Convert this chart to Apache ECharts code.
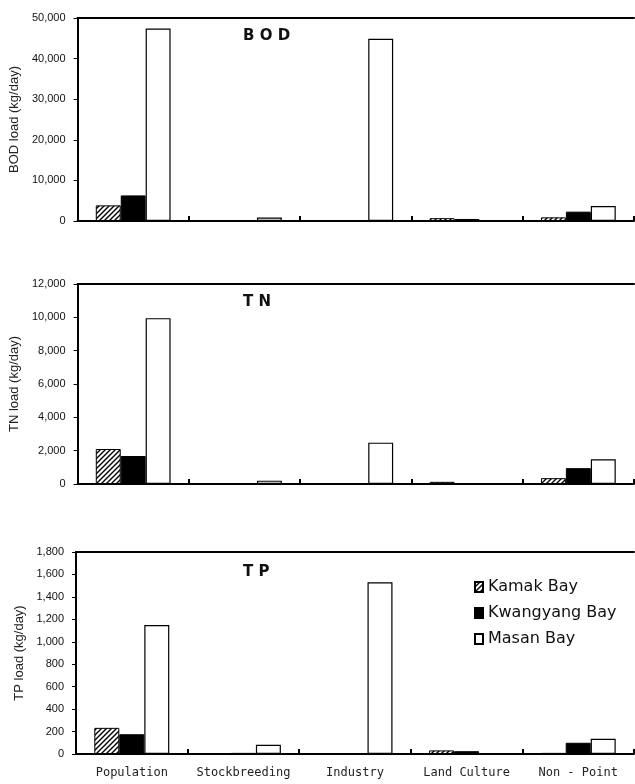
<!DOCTYPE html>
<html><head><meta charset="utf-8">
<script src="https://cdn.jsdelivr.net/npm/echarts@6/dist/echarts.min.js"></script>
<style>html,body{margin:0;padding:0;background:#fff}#c{width:635px;height:784px}</style>
</head><body><div id="c"></div>
<script>
// ---- data ----
const categories = ['Population', 'Stockbreeding', 'Industry', 'Land Culture', 'Non - Point'];
const seriesNames = ['Kamak Bay', 'Kwangyang Bay', 'Masan Bay'];

const bodKamak     = [3850, 100, 50, 700, 900];
const bodKwangyang = [6300, 150, 80, 500, 2300];
const bodMasan     = [47400, 850, 44900, 0, 3700];

const tnKamak     = [2100, 30, 20, 130, 350];
const tnKwangyang = [1680, 40, 30, 60, 950];
const tnMasan     = [9950, 200, 2480, 20, 1480];

const tpKamak     = [233, 3, 2, 32, 10];
const tpKwangyang = [176, 10, 4, 25, 100];
const tpMasan     = [1150, 82, 1530, 3, 136];

const panelTitles = ['B O D', 'T N', 'T P'];
const axisNames = ['BOD load (kg/day)', 'TN load (kg/day)', 'TP load (kg/day)'];
const axisMax = [50000, 12000, 1800];
const axisInterval = [10000, 2000, 200];

// ---- layout ----
const panelData = [
  [bodKamak, bodKwangyang, bodMasan],
  [tnKamak, tnKwangyang, tnMasan],
  [tpKamak, tpKwangyang, tpMasan]
];
const layout = [
  { top: 18, height: 203, nameGap: 52, titleTop: 29 },
  { top: 284, height: 200, nameGap: 52, titleTop: 295 },
  { top: 552, height: 202, nameGap: 44, titleTop: 565 }
];
const titleLeft = [243, 243, 243];

function hatch() {
  const s = 5, c = document.createElement('canvas');
  c.width = s; c.height = s;
  const g = c.getContext('2d');
  g.fillStyle = '#fff'; g.fillRect(0, 0, s, s);
  g.strokeStyle = '#000'; g.lineWidth = 1.4;
  g.beginPath();
  g.moveTo(0, s); g.lineTo(s, 0);
  g.moveTo(-1, 1); g.lineTo(1, -1);
  g.moveTo(s - 1, s + 1); g.lineTo(s + 1, s - 1);
  g.stroke();
  return c;
}
const hatchPattern = { image: hatch(), repeat: 'repeat' };

const seriesStyles = [
  { color: hatchPattern, borderColor: '#000', borderWidth: 1 },
  { color: '#000', borderColor: '#000', borderWidth: 1 },
  { color: '#fff', borderColor: '#000', borderWidth: 1.2 }
];

const grids = [], xAxes = [], yAxes = [], series = [], titles = [];
layout.forEach((L, i) => {
  grids.push({ left: 76, right: 1, top: L.top, height: L.height, containLabel: false });
  xAxes.push({
    type: 'category', gridIndex: i, data: categories, position: 'bottom',
    axisLine: { show: true, lineStyle: { color: '#000', width: 2 } },
    axisTick: { show: true, inside: true, interval: 0, length: 5, lineStyle: { color: '#000', width: 2 } },
    axisLabel: { show: i === 2, interval: 0, margin: 13, fontFamily: 'DejaVu Sans Mono', fontSize: 12, color: '#222' },
    splitLine: { show: false }
  });
  xAxes.push({
    type: 'category', gridIndex: i, data: categories, position: 'top',
    axisLine: { show: true, lineStyle: { color: '#000', width: 2 } },
    axisTick: { show: false }, axisLabel: { show: false }, splitLine: { show: false }
  });
  yAxes.push({
    type: 'value', gridIndex: i, min: 0, max: axisMax[i], interval: axisInterval[i],
    name: axisNames[i], nameLocation: 'middle', nameGap: L.nameGap, nameRotate: 90,
    nameTextStyle: { fontFamily: 'Liberation Sans', fontSize: 13, color: '#222' },
    axisLine: { show: true, lineStyle: { color: '#000', width: 2 } },
    axisTick: { show: true, length: 4, lineStyle: { color: '#000', width: 1 } },
    axisLabel: {
      margin: 12, fontFamily: 'Liberation Sans', fontSize: 11, color: '#111',
      formatter: v => v.toLocaleString('en-US')
    },
    splitLine: { show: false }
  });
  titles.push({
    text: panelTitles[i], left: titleLeft[i], top: L.titleTop, padding: 0,
    textStyle: { fontFamily: 'DejaVu Sans', fontWeight: 'bold', fontSize: 15, color: '#111' }
  });
  panelData[i].forEach((d, j) => {
    series.push({
      type: 'bar', name: seriesNames[j], xAxisIndex: 2 * i, yAxisIndex: i,
      data: d, barWidth: '22.4%', barGap: '0%',
      itemStyle: seriesStyles[j], silent: true
    });
  });
});

const chart = echarts.init(document.getElementById('c'), null, { renderer: 'canvas' });
chart.setOption({
  animation: false,
  backgroundColor: '#fff',
  title: titles,
  legend: {
    data: seriesNames, orient: 'vertical', left: 469, top: 574,
    icon: 'rect', itemWidth: 8, itemHeight: 10, itemGap: 10,
    textStyle: { fontFamily: 'DejaVu Sans', fontSize: 16, color: '#111' },
    selectedMode: false
  },
  grid: grids, xAxis: xAxes, yAxis: yAxes, series: series
});
</script>
</body></html>
